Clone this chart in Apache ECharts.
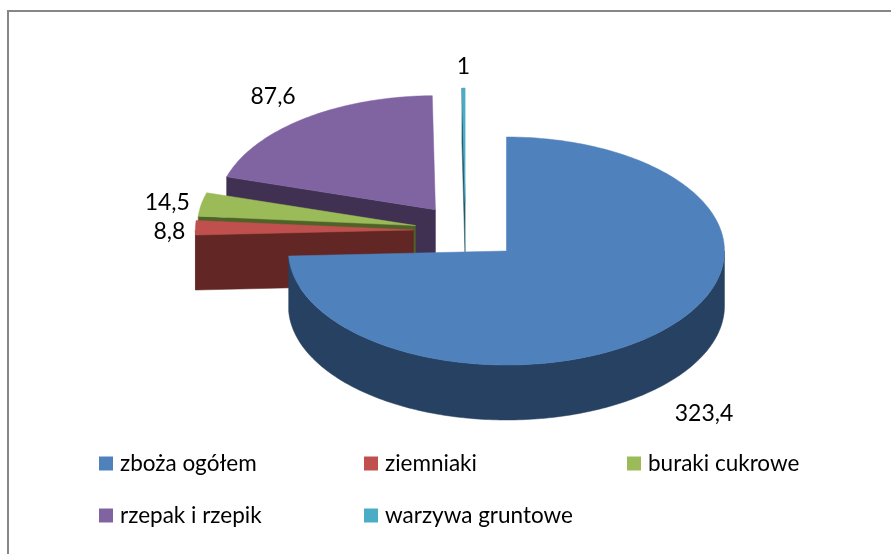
<!DOCTYPE html>
<html>
<head>
<meta charset="utf-8">
<style>html,body{margin:0;padding:0;background:#fff}#c{width:891px;height:554px}</style>
<script src="https://cdn.jsdelivr.net/npm/echarts@6/dist/echarts.min.js"></script>
</head>
<body>
<div id="c"></div>
<script>
const categories = ['zboża ogółem', 'ziemniaki', 'buraki cukrowe', 'rzepak i rzepik', 'warzywa gruntowe'];
const values = [323.4, 8.8, 14.5, 87.6, 1];
const valueLabels = ['323,4', '8,8', '14,5', '87,6', '1'];
const topColors = ['#4F81BD', '#C0504D', '#9BBB59', '#8064A2', '#4BACC6'];
const sideColors = ['#264161', '#622724', '#4F6228', '#403152', '#215968'];
const explode = [0.26, 0.239, 0.2335, 0.229, 0.25];
const layerOrder = [5, 3, 2, 1, 2];
const labelOffsetX = [40, -26, -34, -31, 0];
const labelOffsetY = [83.5, 4, -1.5, -22, -21];
const legendX = [99, 364, 627, 99, 364];
const legendY = [452, 452, 452, 504, 504];

const CX = 465.5, CY = 230.5, RX = 218, RY = 114, DEPTH = 55;
const FONT = 'Lato';
const total = values.reduce((a, b) => a + b, 0);
const starts = [];
values.reduce((acc, v, i) => { starts[i] = acc; return acc + v; }, 0);
const rad = v => v / total * 2 * Math.PI;

function renderSlice(index) {
  return function (params, api) {
    const value = api.value(0);
    const a0 = rad(starts[index]);
    const a1 = a0 + rad(value);
    const mid = (a0 + a1) / 2;
    const ax = CX + explode[index] * RX * Math.sin(mid);
    const ay = CY - explode[index] * RY * Math.cos(mid);
    const pt = a => [ax + RX * Math.sin(a), ay - RY * Math.cos(a)];
    const down = p => [p[0], p[1] + DEPTH];
    const arc = (s, e) => {
      const n = Math.max(2, Math.ceil((e - s) / (Math.PI / 180)));
      const out = [];
      for (let i = 0; i <= n; i++) out.push(pt(s + (e - s) * i / n));
      return out;
    };
    const poly = (points, fill) => ({
      type: 'polygon',
      shape: { points },
      style: { fill, stroke: fill, lineWidth: 0.5 }
    });
    const children = [];
    const side = sideColors[index];
    const apex = [ax, ay];
    if (Math.sin(a0) < 0) {
      const p = pt(a0);
      children.push(poly([p, apex, down(apex), down(p)], side));
    }
    if (Math.sin(a1) > 0) {
      const p = pt(a1);
      children.push(poly([apex, p, down(p), down(apex)], side));
    }
    const rimS = Math.max(a0, Math.PI / 2);
    const rimE = Math.min(a1, 3 * Math.PI / 2);
    if (rimE > rimS) {
      const top = arc(rimS, rimE);
      children.push(poly(top.concat(top.slice().reverse().map(down)), side));
    }
    children.push(poly([apex].concat(arc(a0, a1)), topColors[index]));
    const m = pt(mid);
    children.push({
      type: 'text',
      style: {
        x: m[0] + labelOffsetX[index],
        y: m[1] + labelOffsetY[index],
        text: valueLabels[index],
        fill: '#000',
        font: '23px ' + FONT,
        align: 'center',
        verticalAlign: 'middle'
      }
    });
    return { type: 'group', children };
  };
}

const chart = echarts.init(document.getElementById('c'), null, { renderer: 'canvas' });
chart.setOption({
  animation: false,
  backgroundColor: '#fff',
  tooltip: { show: false },
  graphic: [
    { type: 'polyline', shape: { points: [[8, 554], [8, 11], [891, 11]] },
      style: { stroke: '#868686', lineWidth: 2, fill: null }, silent: true }
  ],
  legend: categories.map((name, i) => ({
    data: [name],
    left: legendX[i],
    top: legendY[i],
    padding: 0,
    icon: 'rect',
    itemWidth: 14,
    itemHeight: 14,
    selectedMode: false,
    textStyle: { fontFamily: FONT, fontSize: 22.5, color: '#000', padding: [0, 0, 3, 2] }
  })),
  series: categories.map((name, i) => ({
    type: 'custom',
    name,
    coordinateSystem: 'none',
    z: layerOrder[i],
    itemStyle: { color: topColors[i] },
    data: [[values[i]]],
    renderItem: renderSlice(i),
    silent: true
  }))
});
</script>
</body>
</html>
